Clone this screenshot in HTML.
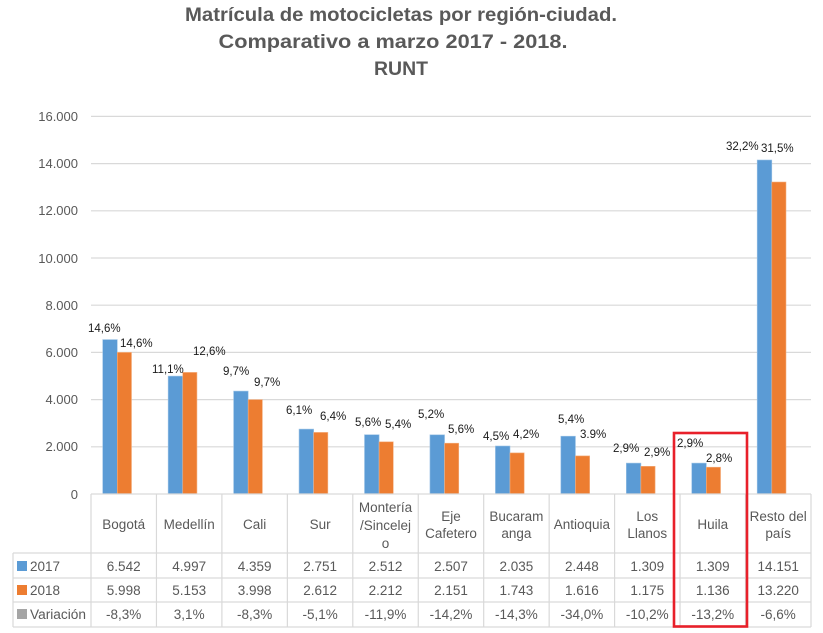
<!DOCTYPE html>
<html><head><meta charset="utf-8"><style>
html,body{margin:0;padding:0;background:#fff;}
svg{display:block;font-family:"Liberation Sans",Arial,sans-serif;}
</style></head><body>
<svg width="823" height="633" viewBox="0 0 823 633" xmlns="http://www.w3.org/2000/svg">
<rect width="823" height="633" fill="#fff"/>
<!-- Title -->
<g fill="#595959" font-weight="bold" font-size="19" text-anchor="middle">
<text x="401" y="21" textLength="432" lengthAdjust="spacingAndGlyphs">Matrícula de motocicletas por región-ciudad.</text>
<text x="393" y="48" textLength="349" lengthAdjust="spacingAndGlyphs">Comparativo a marzo 2017 - 2018.</text>
<text x="401" y="75" textLength="54" lengthAdjust="spacingAndGlyphs">RUNT</text>
</g>
<!-- gridlines -->
<g stroke="#d9d9d9" stroke-width="1.2">
<line x1="91" y1="116.4" x2="811" y2="116.4"/>
<line x1="91" y1="163.6" x2="811" y2="163.6"/>
<line x1="91" y1="210.8" x2="811" y2="210.8"/>
<line x1="91" y1="258" x2="811" y2="258"/>
<line x1="91" y1="305.2" x2="811" y2="305.2"/>
<line x1="91" y1="352.4" x2="811" y2="352.4"/>
<line x1="91" y1="399.6" x2="811" y2="399.6"/>
<line x1="91" y1="446.8" x2="811" y2="446.8"/>
</g>
<!-- y labels -->
<g fill="#595959" font-size="13" text-anchor="end">
<text x="78" y="121">16.000</text>
<text x="78" y="168">14.000</text>
<text x="78" y="215">12.000</text>
<text x="78" y="263">10.000</text>
<text x="78" y="310">8.000</text>
<text x="78" y="357">6.000</text>
<text x="78" y="404">4.000</text>
<text x="78" y="451">2.000</text>
<text x="78" y="499">0</text>
</g>
<!-- bars 2017 -->
<g fill="#5B9BD5" stroke="#9cc3e6" stroke-width="0.6">
<rect x="102.7" y="339.6" width="14.6" height="154.4"/>
<rect x="168.15" y="376.1" width="14.6" height="117.9"/>
<rect x="233.6" y="391.1" width="14.6" height="102.9"/>
<rect x="299.05" y="429.1" width="14.6" height="64.9"/>
<rect x="364.5" y="434.7" width="14.6" height="59.3"/>
<rect x="429.95" y="434.8" width="14.6" height="59.2"/>
<rect x="495.4" y="446" width="14.6" height="48"/>
<rect x="560.85" y="436.2" width="14.6" height="57.8"/>
<rect x="626.3" y="463.1" width="14.6" height="30.9"/>
<rect x="691.75" y="463.1" width="14.6" height="30.9"/>
<rect x="757.2" y="160" width="14.6" height="334"/>
</g>
<!-- bars 2018 -->
<g fill="#ED7D31" stroke="#f4b183" stroke-width="0.6">
<rect x="117.3" y="352.4" width="14.2" height="141.6"/>
<rect x="182.75" y="372.4" width="14.2" height="121.6"/>
<rect x="248.2" y="399.6" width="14.2" height="94.4"/>
<rect x="313.65" y="432.4" width="14.2" height="61.6"/>
<rect x="379.1" y="441.8" width="14.2" height="52.2"/>
<rect x="444.55" y="443.2" width="14.2" height="50.8"/>
<rect x="510" y="452.9" width="14.2" height="41.1"/>
<rect x="575.45" y="455.9" width="14.2" height="38.1"/>
<rect x="640.9" y="466.3" width="14.2" height="27.7"/>
<rect x="706.35" y="467.2" width="14.2" height="26.8"/>
<rect x="771.8" y="182" width="14.2" height="312"/>
</g>
<!-- data labels -->
<g fill="#1a1a1a" font-size="11.5">
<text x="88" y="332">14,6%</text>
<text x="120" y="347">14,6%</text>
<text x="152" y="373">11,1%</text>
<text x="193" y="355">12,6%</text>
<text x="223" y="375">9,7%</text>
<text x="254" y="386">9,7%</text>
<text x="286" y="414">6,1%</text>
<text x="320" y="420">6,4%</text>
<text x="355" y="426">5,6%</text>
<text x="385" y="428">5,4%</text>
<text x="418" y="418">5,2%</text>
<text x="448" y="433">5,6%</text>
<text x="483" y="440">4,5%</text>
<text x="513" y="438">4,2%</text>
<text x="558" y="423">5,4%</text>
<text x="580" y="438">3.9%</text>
<text x="613" y="452">2,9%</text>
<text x="644" y="456">2,9%</text>
<text x="677" y="447">2,9%</text>
<text x="706" y="462">2,8%</text>
<text x="726" y="150">32,2%</text>
<text x="761" y="152">31,5%</text>
</g>
<!-- table lines -->
<g stroke="#d9d9d9" stroke-width="1.2" fill="none">
<line x1="91" y1="494" x2="811" y2="494"/>
<line x1="13" y1="553" x2="811" y2="553"/>
<line x1="13" y1="578" x2="811" y2="578"/>
<line x1="13" y1="602" x2="811" y2="602"/>
<line x1="13" y1="627" x2="811" y2="627"/>
<line x1="13" y1="553" x2="13" y2="627"/>
<line x1="91" y1="494" x2="91" y2="627"/>
<line x1="156.45" y1="494" x2="156.45" y2="627"/>
<line x1="221.9" y1="494" x2="221.9" y2="627"/>
<line x1="287.35" y1="494" x2="287.35" y2="627"/>
<line x1="352.8" y1="494" x2="352.8" y2="627"/>
<line x1="418.25" y1="494" x2="418.25" y2="627"/>
<line x1="483.7" y1="494" x2="483.7" y2="627"/>
<line x1="549.15" y1="494" x2="549.15" y2="627"/>
<line x1="614.6" y1="494" x2="614.6" y2="627"/>
<line x1="680.05" y1="494" x2="680.05" y2="627"/>
<line x1="745.5" y1="494" x2="745.5" y2="627"/>
<line x1="811" y1="494" x2="811" y2="627"/>
</g>
<!-- header -->
<g fill="#595959" font-size="13.5" text-anchor="middle">
<text x="123.7" y="529">Bogotá</text>
<text x="189.2" y="529">Medellín</text>
<text x="254.6" y="529">Cali</text>
<text x="320.1" y="529">Sur</text>
<text x="385.5" y="512">Montería</text>
<text x="385.5" y="530">/Sincelej</text>
<text x="385.5" y="548">o</text>
<text x="451" y="521">Eje</text>
<text x="451" y="538">Cafetero</text>
<text x="516.4" y="521">Bucaram</text>
<text x="516.4" y="538">anga</text>
<text x="581.9" y="529">Antioquia</text>
<text x="647.3" y="521">Los</text>
<text x="647.3" y="538">Llanos</text>
<text x="712.8" y="529">Huila</text>
<text x="778.2" y="521">Resto del</text>
<text x="778.2" y="538">país</text>
</g>
<!-- legend cells -->
<rect x="17" y="561" width="10" height="10" fill="#5B9BD5"/>
<rect x="17" y="585" width="10" height="10" fill="#ED7D31"/>
<rect x="17" y="609" width="10" height="10" fill="#A5A5A5"/>
<g fill="#595959" font-size="13.5">
<text x="30" y="571">2017</text>
<text x="30" y="595">2018</text>
<text x="30" y="619" textLength="56" lengthAdjust="spacingAndGlyphs">Variación</text>
</g>
<!-- data rows -->
<g fill="#595959" font-size="13.5" text-anchor="middle">
<text x="123.7" y="571">6.542</text><text x="189.2" y="571">4.997</text><text x="254.6" y="571">4.359</text><text x="320.1" y="571">2.751</text><text x="385.5" y="571">2.512</text><text x="451" y="571">2.507</text><text x="516.4" y="571">2.035</text><text x="581.9" y="571">2.448</text><text x="647.3" y="571">1.309</text><text x="712.8" y="571">1.309</text><text x="778.2" y="571">14.151</text>
<text x="123.7" y="595">5.998</text><text x="189.2" y="595">5.153</text><text x="254.6" y="595">3.998</text><text x="320.1" y="595">2.612</text><text x="385.5" y="595">2.212</text><text x="451" y="595">2.151</text><text x="516.4" y="595">1.743</text><text x="581.9" y="595">1.616</text><text x="647.3" y="595">1.175</text><text x="712.8" y="595">1.136</text><text x="778.2" y="595">13.220</text>
<text x="123.7" y="619">-8,3%</text><text x="189.2" y="619">3,1%</text><text x="254.6" y="619">-8,3%</text><text x="320.1" y="619">-5,1%</text><text x="385.5" y="619">-11,9%</text><text x="451" y="619">-14,2%</text><text x="516.4" y="619">-14,3%</text><text x="581.9" y="619">-34,0%</text><text x="647.3" y="619">-10,2%</text><text x="712.8" y="619">-13,2%</text><text x="778.2" y="619">-6,6%</text>
</g>
<!-- red highlight box -->
<rect x="674" y="433" width="73" height="193.5" fill="none" stroke="#e8202a" stroke-width="2.6"/>
</svg>
</body></html>
